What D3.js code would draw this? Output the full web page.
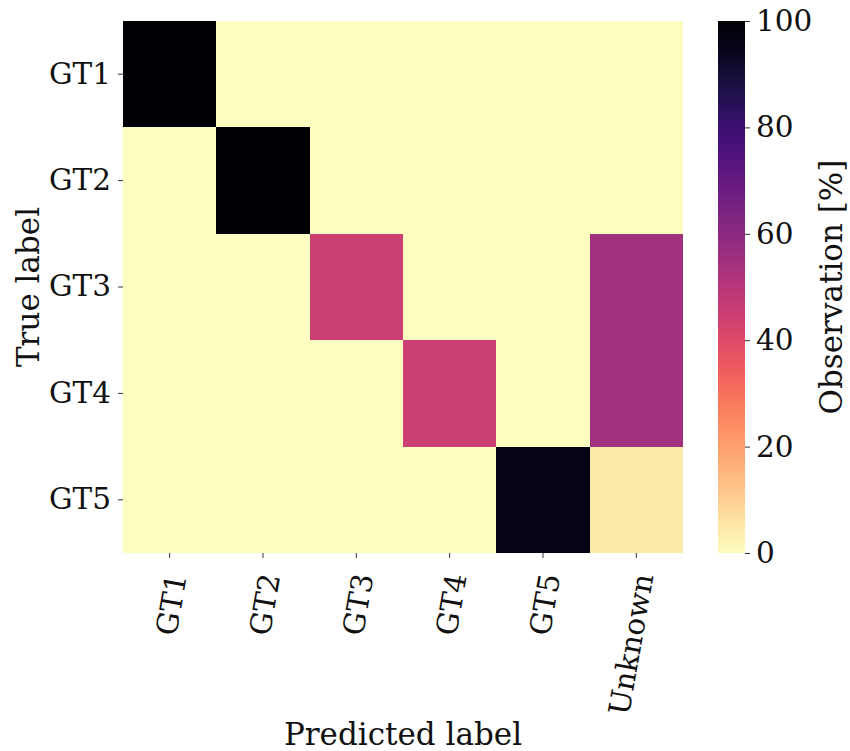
<!DOCTYPE html>
<html>
<head>
<meta charset="utf-8">
<script src="https://cdn.jsdelivr.net/npm/d3@7"></script>
<style>
  body { margin: 0; background: #fff; }
  text { font-family: "DejaVu Serif", serif; fill: #111; }
</style>
</head>
<body>
<div id="chart"></div>
<script>
// categories
const trueLabels = ['GT1', 'GT2', 'GT3', 'GT4', 'GT5'];
const predLabels = ['GT1', 'GT2', 'GT3', 'GT4', 'GT5', 'Unknown'];

// observation [%] per true label (rows), across predicted labels (columns)
const rowGT1 = [100, 0, 0, 0, 0, 0];
const rowGT2 = [0, 100, 0, 0, 0, 0];
const rowGT3 = [0, 0, 45, 0, 0, 55];
const rowGT4 = [0, 0, 0, 45, 0, 55];
const rowGT5 = [0, 0, 0, 0, 96, 4];

const colorTicks = [0, 20, 40, 60, 80, 100];

const rows = [rowGT1, rowGT2, rowGT3, rowGT4, rowGT5];
const cells = [];
rows.forEach((r, i) => {
  r.forEach((v, j) => {
    cells.push({ row: trueLabels[i], col: predLabels[j], value: v });
  });
});

const W = 850, H = 751;
const plot = { left: 123, right: 683, top: 21, bottom: 553 };
const bar = { left: 718, width: 27 };
const tickFont = 29.5;
const titleFont = 31;

const svg = d3.select('#chart')
  .append('svg')
  .attr('width', W)
  .attr('height', H);

const x = d3.scaleBand().domain(predLabels).range([plot.left, plot.right]);
const y = d3.scaleBand().domain(trueLabels).range([plot.top, plot.bottom]);
const color = d3.scaleSequential((t) => d3.interpolateMagma(1 - t)).domain([0, 100]);

// heatmap cells
svg.append('g')
  .attr('class', 'cells')
  .selectAll('rect')
  .data(cells)
  .join('rect')
  .attr('x', (d) => x(d.col))
  .attr('y', (d) => y(d.row))
  .attr('width', x.bandwidth())
  .attr('height', y.bandwidth())
  .attr('fill', (d) => color(d.value))
  .attr('shape-rendering', 'crispEdges');

// x axis
const xAxis = svg.append('g')
  .attr('class', 'axis x')
  .attr('transform', `translate(0,${plot.bottom})`)
  .call(d3.axisBottom(x).tickSize(5).tickSizeOuter(0));
xAxis.select('.domain').remove();
xAxis.selectAll('.tick line').attr('stroke', '#333');
xAxis.selectAll('.tick text')
  .attr('font-size', tickFont)
  .attr('font-family', '"DejaVu Serif", serif')
  .attr('text-anchor', 'end')
  .attr('dy', '0.35em')
  .attr('y', 0)
  .attr('transform', 'translate(7,21) rotate(-80)');

// y axis
const yAxis = svg.append('g')
  .attr('class', 'axis y')
  .attr('transform', `translate(${plot.left},0)`)
  .call(d3.axisLeft(y).tickSize(5).tickPadding(7).tickSizeOuter(0));
yAxis.select('.domain').remove();
yAxis.selectAll('.tick line').attr('stroke', '#333');
yAxis.selectAll('.tick text')
  .attr('font-size', tickFont)
  .attr('font-family', '"DejaVu Serif", serif');

// axis titles
svg.append('text')
  .attr('x', (plot.left + plot.right) / 2)
  .attr('y', 745)
  .attr('text-anchor', 'middle')
  .attr('font-size', titleFont)
  .text('Predicted label');

svg.append('text')
  .attr('transform', `translate(39,${(plot.top + plot.bottom) / 2}) rotate(-90)`)
  .attr('text-anchor', 'middle')
  .attr('font-size', titleFont)
  .text('True label');

// colorbar
const defs = svg.append('defs');
const grad = defs.append('linearGradient')
  .attr('id', 'cbar')
  .attr('x1', 0).attr('y1', 1)
  .attr('x2', 0).attr('y2', 0);
d3.range(0, 101, 5).forEach((v) => {
  grad.append('stop')
    .attr('offset', `${v}%`)
    .attr('stop-color', color(v));
});

svg.append('rect')
  .attr('x', bar.left)
  .attr('y', plot.top)
  .attr('width', bar.width)
  .attr('height', plot.bottom - plot.top)
  .attr('fill', 'url(#cbar)');

const cScale = d3.scaleLinear().domain([0, 100]).range([plot.bottom, plot.top]);
const cAxis = svg.append('g')
  .attr('class', 'axis c')
  .attr('transform', `translate(${bar.left + bar.width},0)`)
  .call(d3.axisRight(cScale).tickValues(colorTicks).tickSize(5).tickPadding(6));
cAxis.select('.domain').remove();
cAxis.selectAll('.tick line').attr('stroke', '#333');
cAxis.selectAll('.tick text')
  .attr('font-size', tickFont)
  .attr('font-family', '"DejaVu Serif", serif');

svg.append('text')
  .attr('transform', `translate(831,${(plot.top + plot.bottom) / 2}) rotate(-90)`)
  .attr('text-anchor', 'middle')
  .attr('dy', '0.35em')
  .attr('font-size', titleFont)
  .text('Observation [%]');
</script>
</body>
</html>
